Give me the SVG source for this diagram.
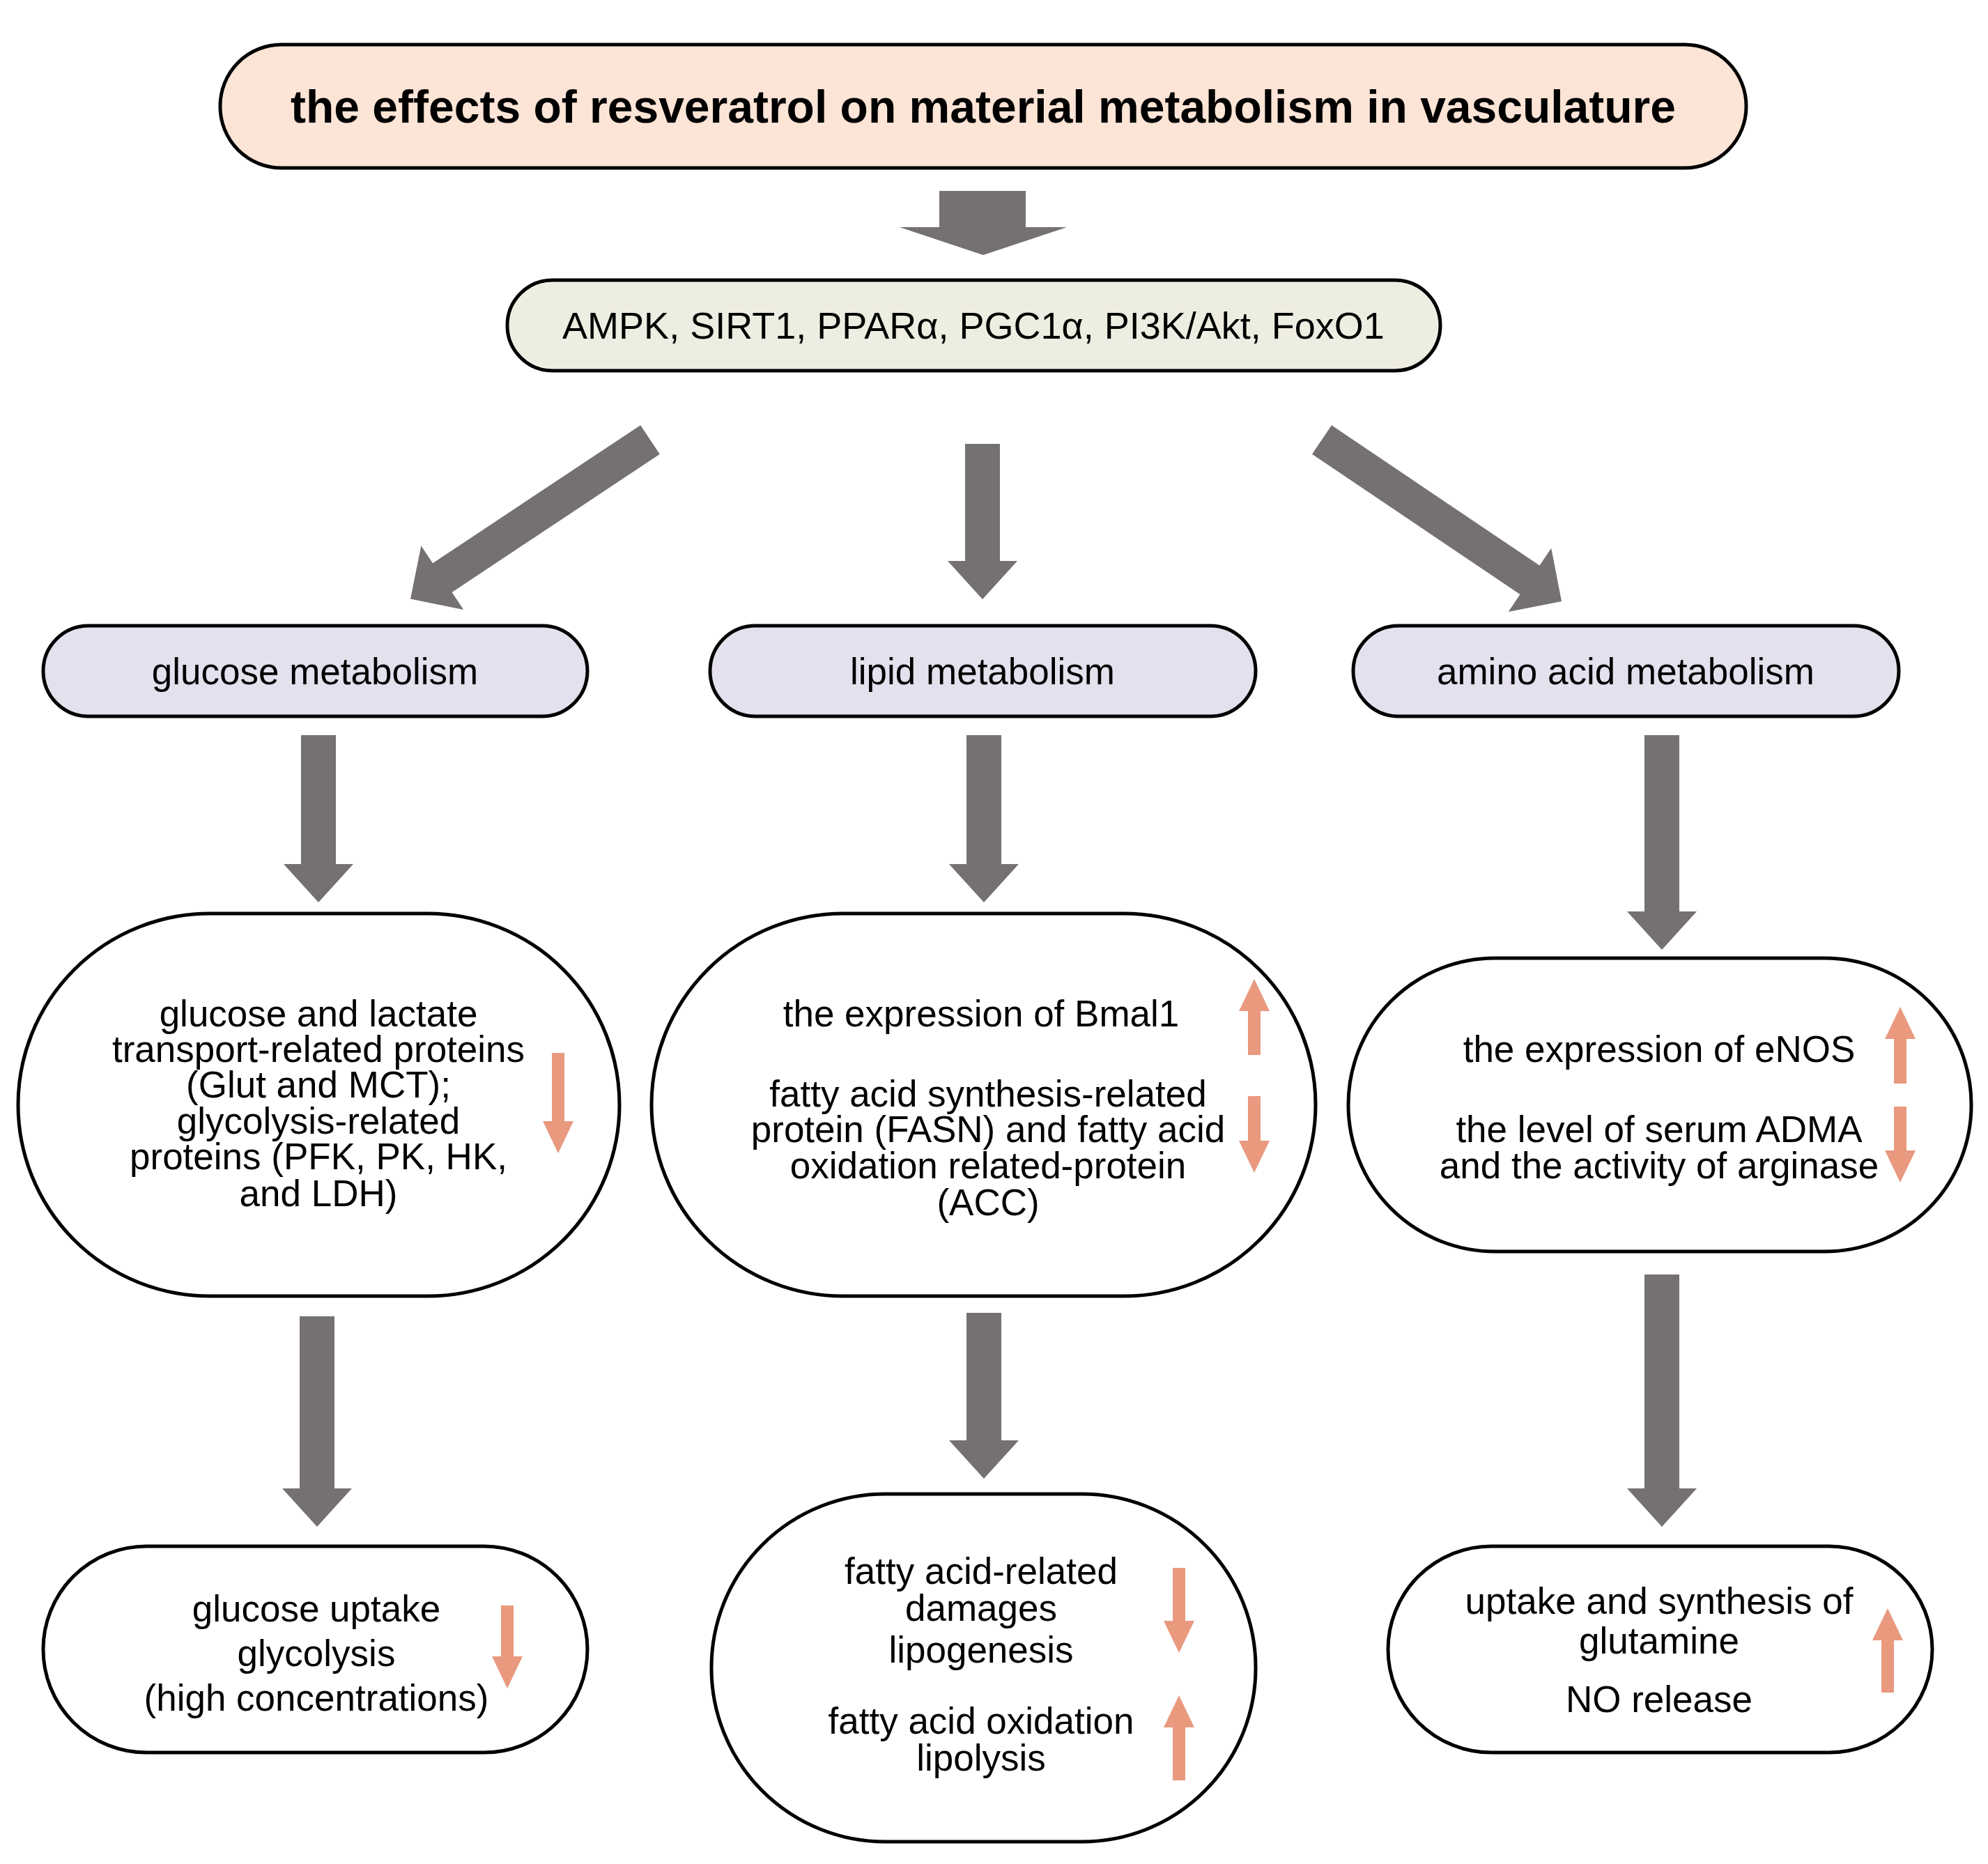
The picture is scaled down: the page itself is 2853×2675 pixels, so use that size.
<svg xmlns="http://www.w3.org/2000/svg" width="2853" height="2675" viewBox="0 0 2853 2675">
<style>
.b{stroke:#000;stroke-width:5}
.t{font-family:"Liberation Sans",Arial,sans-serif;font-size:53px;text-anchor:middle;dominant-baseline:central;fill:#000}
.g{fill:#767171}
.o{fill:#e9997e}
</style>
<rect width="2853" height="2675" fill="#fff"/>
<g id="title"><rect class="b" x="316" y="64" width="2190" height="177" rx="88" fill="#fce4d6"/><text class="t" x="1411" y="153" style="font-weight:bold;font-size:66px">the effects of resveratrol on material metabolism in vasculature</text></g>
<g id="signals"><rect class="b" x="728" y="402" width="1339" height="130" rx="65" fill="#eeede1"/><text class="t" x="1397" y="467" style="font-size:54px">AMPK, SIRT1, PPARα, PGC1α, PI3K/Akt, FoxO1</text></g>
<g id="glucose"><rect class="b" x="62" y="898" width="781" height="130" rx="65" fill="#e5e0ed"/><text class="t" x="452" y="963">glucose metabolism</text></g>
<g id="lipid"><rect class="b" x="1019" y="898" width="783" height="130" rx="65" fill="#e5e0ed"/><text class="t" x="1410" y="963">lipid metabolism</text></g>
<g id="amino"><rect class="b" x="1942" y="898" width="783" height="130" rx="65" fill="#e5e0ed"/><text class="t" x="2333" y="963">amino acid metabolism</text></g>
<g id="glucose2"><rect class="b" x="26" y="1311" width="863" height="549" rx="275" fill="#fff"/>
<text class="t" x="457" y="1454">glucose and lactate</text><text class="t" x="457" y="1505">transport-related proteins</text><text class="t" x="457" y="1556">(Glut and MCT);</text><text class="t" x="457" y="1608">glycolysis-related</text><text class="t" x="457" y="1659">proteins (PFK, PK, HK,</text><text class="t" x="457" y="1712">and LDH)</text>
<path class="o" d="M792,1511H810V1609H823L801,1655L779,1609H792Z"/></g>
<g id="lipid2"><rect class="b" x="935" y="1311" width="953" height="549" rx="275" fill="#fff"/>
<text class="t" x="1408" y="1454">the expression of Bmal1</text><text class="t" x="1418" y="1569">fatty acid synthesis-related</text><text class="t" x="1418" y="1620">protein (FASN) and fatty acid</text><text class="t" x="1418" y="1672">oxidation related-protein</text><text class="t" x="1418" y="1725">(ACC)</text>
<path class="o" d="M1791,1514H1809V1451H1822L1800,1405L1778,1451H1791Z"/><path class="o" d="M1791,1573H1809V1637H1822L1800,1683L1778,1637H1791Z"/></g>
<g id="amino2"><rect class="b" x="1935" y="1375" width="894" height="421" rx="210" fill="#fff"/>
<text class="t" x="2381" y="1505">the expression of eNOS</text><text class="t" x="2381" y="1620">the level of serum ADMA</text><text class="t" x="2381" y="1672">and the activity of arginase</text>
<path class="o" d="M2718,1555H2736V1491H2749L2727,1445L2705,1491H2718Z"/><path class="o" d="M2718,1588H2736V1651H2749L2727,1697L2705,1651H2718Z"/></g>
<g id="glucose3"><rect class="b" x="62" y="2219" width="781" height="296" rx="148" fill="#fff"/>
<text class="t" x="454" y="2308">glucose uptake</text><text class="t" x="454" y="2372">glycolysis</text><text class="t" x="454" y="2436">(high concentrations)</text>
<path class="o" d="M719,2304H737V2377H750L728,2423L706,2377H719Z"/></g>
<g id="lipid3"><rect class="b" x="1021" y="2144" width="781" height="499" rx="249" fill="#fff"/>
<text class="t" x="1408" y="2254">fatty acid-related</text><text class="t" x="1408" y="2307">damages</text><text class="t" x="1408" y="2367">lipogenesis</text><text class="t" x="1408" y="2469">fatty acid oxidation</text><text class="t" x="1408" y="2522">lipolysis</text>
<path class="o" d="M1683,2250H1701V2326H1714L1692,2372L1670,2326H1683Z"/><path class="o" d="M1683,2555H1701V2479H1714L1692,2433L1670,2479H1683Z"/></g>
<g id="amino3"><rect class="b" x="1992" y="2219" width="781" height="296" rx="148" fill="#fff"/>
<text class="t" x="2381" y="2297">uptake and synthesis of</text><text class="t" x="2381" y="2354">glutamine</text><text class="t" x="2381" y="2438">NO release</text>
<path class="o" d="M2700,2429H2718V2354H2731L2709,2308L2687,2354H2700Z"/></g>
<g id="connectors" class="g">
<path d="M1348,274H1472V326H1531L1411,366L1291,326H1348Z"/>
<path d="M1385,637H1435V805H1460L1410,860L1360,805H1385Z"/>
<path transform="translate(933,631) rotate(56.4)" d="M-25,0H25V358H55L0,413L-55,358H-25Z"/>
<path transform="translate(1897,631) rotate(-56)" d="M-25,0H25V360H55L0,415L-55,360H-25Z"/>
<path d="M432,1055H482V1240H507L457,1295L407,1240H432Z"/>
<path d="M1387,1055H1437V1240H1462L1412,1295L1362,1240H1387Z"/>
<path d="M2360,1055H2410V1308H2435L2385,1363L2335,1308H2360Z"/>
<path d="M430,1889H480V2136H505L455,2191L405,2136H430Z"/>
<path d="M1387,1884H1437V2067H1462L1412,2122L1362,2067H1387Z"/>
<path d="M2360,1829H2410V2136H2435L2385,2191L2335,2136H2360Z"/>
</g>
</svg>
